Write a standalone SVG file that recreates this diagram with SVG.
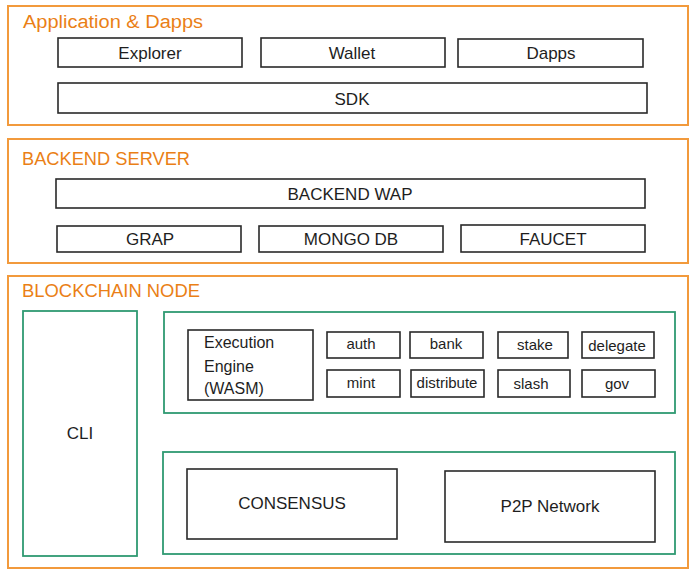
<svg xmlns="http://www.w3.org/2000/svg" width="695" height="574" viewBox="0 0 695 574">
<style>
.bg{fill:#ffffff}
.layer{fill:none;stroke:#f29a3c;stroke-width:2}
.grp{fill:none;stroke:#2f9a72;stroke-width:1.8}
.box{fill:none;stroke:#2a2a2a;stroke-width:1.6}
.title{font-family:"Liberation Sans",sans-serif;font-size:18px;fill:#ea7f16}
.lbl{font-family:"Liberation Sans",sans-serif;font-size:17px;fill:#1e1e1e;text-anchor:middle;dominant-baseline:central}
.sm{font-family:"Liberation Sans",sans-serif;font-size:15px;fill:#1e1e1e;text-anchor:middle;dominant-baseline:central}
.ee{font-family:"Liberation Sans",sans-serif;font-size:16px;fill:#1e1e1e;dominant-baseline:central}
</style>
<rect class="bg" x="0" y="0" width="695" height="574"/>

<g id="layer-app">
<rect class="layer" x="8" y="6" width="680" height="119"/>
<text class="title" x="23" y="28" textLength="180" lengthAdjust="spacingAndGlyphs">Application &amp; Dapps</text>
</g>
<g id="explorer"><rect class="box" x="58" y="38" width="184" height="29"/><text class="lbl" x="150" y="53">Explorer</text></g>
<g id="wallet"><rect class="box" x="261" y="38" width="184" height="29"/><text class="lbl" x="352" y="53">Wallet</text></g>
<g id="dapps"><rect class="box" x="458" y="39" width="185" height="28"/><text class="lbl" x="551" y="53">Dapps</text></g>
<g id="sdk"><rect class="box" x="58" y="83" width="589" height="30"/><text class="lbl" x="352" y="99">SDK</text></g>

<g id="layer-backend">
<rect class="layer" x="8" y="139" width="680" height="124"/>
<text class="title" x="22" y="165" textLength="168" lengthAdjust="spacingAndGlyphs">BACKEND SERVER</text>
</g>
<g id="backend-wap"><rect class="box" x="56" y="179" width="589" height="29"/><text class="lbl" x="350" y="194">BACKEND WAP</text></g>
<g id="grap"><rect class="box" x="57" y="226" width="184" height="26"/><text class="lbl" x="150" y="239">GRAP</text></g>
<g id="mongo"><rect class="box" x="259" y="226" width="184" height="26"/><text class="lbl" x="351" y="239">MONGO DB</text></g>
<g id="faucet"><rect class="box" x="461" y="225" width="184" height="27"/><text class="lbl" x="553" y="239">FAUCET</text></g>

<g id="layer-node">
<rect class="layer" x="8" y="276" width="680" height="292"/>
<text class="title" x="22" y="297" textLength="178" lengthAdjust="spacingAndGlyphs">BLOCKCHAIN NODE</text>
</g>
<g id="cli"><rect class="grp" x="23" y="311" width="114" height="245"/><text class="lbl" x="80" y="433">CLI</text></g>

<g id="runtime"><rect class="grp" x="164" y="312" width="511" height="101"/></g>
<g id="exec-engine">
<rect class="box" x="188" y="330" width="125" height="70"/>
<text class="ee" x="204" y="342">Execution</text>
<text class="ee" x="204" y="366">Engine</text>
<text class="ee" x="204" y="388">(WASM)</text>
</g>
<g id="auth"><rect class="box" x="327" y="332" width="73" height="26"/><text class="sm" x="361" y="343">auth</text></g>
<g id="bank"><rect class="box" x="410" y="332" width="73" height="26"/><text class="sm" x="446" y="343">bank</text></g>
<g id="stake"><rect class="box" x="498" y="332" width="70" height="26"/><text class="sm" x="535" y="344">stake</text></g>
<g id="delegate"><rect class="box" x="582" y="332" width="72" height="26"/><text class="sm" x="617" y="345">delegate</text></g>
<g id="mint"><rect class="box" x="327" y="370" width="73" height="27"/><text class="sm" x="361" y="382">mint</text></g>
<g id="distribute"><rect class="box" x="411" y="370" width="73" height="27"/><text class="sm" x="447" y="382">distribute</text></g>
<g id="slash"><rect class="box" x="498" y="370" width="72" height="27"/><text class="sm" x="531" y="383">slash</text></g>
<g id="gov"><rect class="box" x="582" y="370" width="73" height="27"/><text class="sm" x="617" y="383">gov</text></g>

<g id="network-layer"><rect class="grp" x="163" y="452" width="512" height="102"/></g>
<g id="consensus"><rect class="box" x="187" y="469" width="210" height="70"/><text class="lbl" x="292" y="503">CONSENSUS</text></g>
<g id="p2p"><rect class="box" x="445" y="471" width="210" height="71"/><text class="lbl" x="550" y="506">P2P Network</text></g>

<g id="connectors"></g>
</svg>
